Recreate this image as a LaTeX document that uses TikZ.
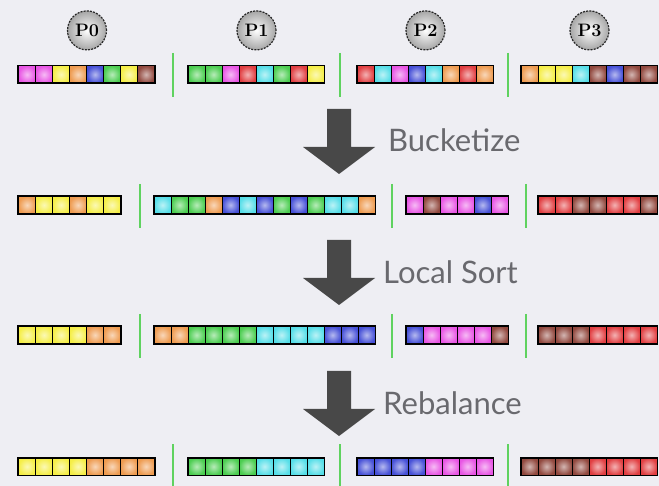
\documentclass[tikz,border=0pt]{standalone}
\usepackage{fontspec}
\newfontfamily\labelfont{Lato}
\usetikzlibrary{positioning}

\definecolor{bg}{RGB}{238,238,243}
\definecolor{mg}{RGB}{232,85,228}
\definecolor{yl}{RGB}{245,238,70}
\definecolor{og}{RGB}{238,155,80}
\definecolor{bl}{RGB}{70,80,215}
\definecolor{gn}{RGB}{75,205,80}
\definecolor{br}{RGB}{145,72,62}
\definecolor{rd}{RGB}{225,62,65}
\definecolor{cy}{RGB}{85,222,232}
\definecolor{sepgreen}{RGB}{95,210,95}
\definecolor{arrowgray}{RGB}{72,72,72}
\definecolor{labelgray}{RGB}{105,105,110}

\tikzset{
  cell/.style={draw=black, line width=1pt, minimum size=17pt, inner sep=0pt,
    inner color=#1!40!white, outer color=#1},
  bar/.style={draw=black, line width=1.7pt},
  sep/.style={draw=sepgreen, line width=2pt},
  proc/.style={circle, minimum size=39pt, inner sep=0pt, draw=black!85,
    line width=1.2pt, dash pattern=on 2pt off 1.2pt,
    inner color=white, outer color=gray!70,
    font=\bfseries\fontsize{18}{18}\selectfont},
  steplabel/.style={anchor=west, inner sep=0pt, text=labelgray,
    font=\labelfont\fontsize{31}{31}\selectfont},
  bigarrow/.pic={
    \fill[arrowgray] (-12,0) -- (-12,38) -- (-36,38) -- (0,65)
      -- (36,38) -- (12,38) -- (12,0) -- cycle;
  },
}

% name, left x, centre y, number of cells, colours
\newcommand\bucket[5]{%
  \foreach \c [count=\i from 0] in {#5}
    \node[cell=\c] (#1-\i) at ({#2+8.5+17*\i},#3) {};
  \pgfmathtruncatemacro\lastcell{#4-1}
  \draw[bar] (#1-0.north west) rectangle (#1-\lastcell.south east);
}

\begin{document}
\begin{tikzpicture}[x=1pt,y=-1pt]
    %background
    \fill[bg] (0,0) rectangle (659,486);
    \useasboundingbox (0,0) rectangle (659,486);

    %initial data
    \bucket{a0}{18.5}{74.5}{8}{mg,mg,yl,og,bl,gn,yl,br}
    \bucket{a1}{188}{74.5}{8}{gn,gn,mg,rd,cy,gn,rd,yl}
    \bucket{a2}{357}{74.5}{8}{rd,cy,mg,bl,cy,og,rd,og}
    \bucket{a3}{521}{74.5}{8}{og,yl,yl,cy,br,bl,br,br}
    \foreach \x in {173,340,508} \draw[sep] (\x,53) -- (\x,97);

    %processors
    \node[proc, above=15pt of a0-3.north east] (p0) {P0};
    \node[proc, above=15pt of a1-3.north east] (p1) {P1};
    \node[proc, above=15pt of a2-3.north east] (p2) {P2};
    \node[proc, above=15pt of a3-3.north east] (p3) {P3};

    %after bucketize
    \bucket{b0}{18.5}{205}{6}{og,yl,yl,og,yl,yl}
    \bucket{b1}{154}{205}{13}{cy,gn,gn,og,bl,cy,bl,gn,bl,gn,cy,cy,og}
    \bucket{b2}{406}{205}{6}{mg,br,mg,mg,bl,mg}
    \bucket{b3}{538}{205}{7}{rd,rd,br,br,rd,rd,br}
    \foreach \x in {140,392,526} \draw[sep] (\x,184) -- (\x,228);

    %after local sort
    \bucket{c0}{18.5}{335}{6}{yl,yl,yl,yl,og,og}
    \bucket{c1}{154}{335}{13}{og,og,gn,gn,gn,gn,cy,cy,cy,cy,bl,bl,bl}
    \bucket{c2}{406}{335}{6}{bl,mg,mg,mg,mg,br}
    \bucket{c3}{538}{335}{7}{br,br,br,rd,rd,rd,rd}
    \foreach \x in {140,392,526} \draw[sep] (\x,314) -- (\x,358);

    %after rebalance
    \bucket{d0}{18.5}{466.5}{8}{yl,yl,yl,yl,og,og,og,og}
    \bucket{d1}{188}{466.5}{8}{gn,gn,gn,gn,cy,cy,cy,cy}
    \bucket{d2}{357}{466.5}{8}{bl,bl,bl,bl,mg,mg,mg,mg}
    \bucket{d3}{521}{466.5}{8}{br,br,br,br,rd,rd,rd,rd}
    \foreach \x in {173,340,508} \draw[sep] (\x,444) -- (\x,490);

    %steps
    \pic at (339,109) {bigarrow};
    \pic at (339,240) {bigarrow};
    \pic at (339,371) {bigarrow};
    \node[steplabel] (bucketize) at (388,140) {Bucketize};
    \node[steplabel] (localsort) at (383,272) {Local Sort};
    \node[steplabel] (rebalance) at (383,403) {Rebalance};

\end{tikzpicture}
\end{document}
